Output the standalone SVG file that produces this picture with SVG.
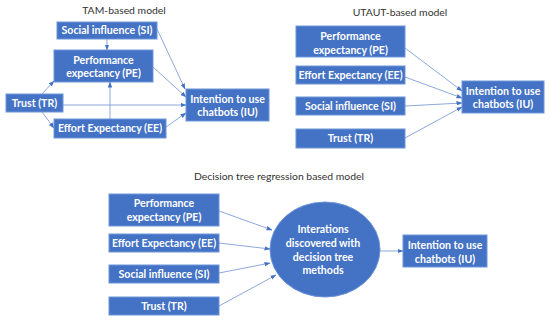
<svg xmlns="http://www.w3.org/2000/svg" width="550" height="321" viewBox="0 0 550 321">
<defs>
<marker id="ah" markerUnits="userSpaceOnUse" markerWidth="6" markerHeight="6" viewBox="0 0 6 6" refX="5.5" refY="3" orient="auto">
<path d="M0,0.8 L6,3 L0,5.2 z" fill="#4472C4"/>
</marker>
<style>
.box{fill:#4472C4;stroke:#6F95D8;stroke-width:1}
.t{fill:#ffffff;font-family:Lato,"Liberation Sans",sans-serif;font-weight:bold;font-size:10.6px;text-anchor:middle}
.title{fill:#333333;font-family:Lato,"Liberation Sans",sans-serif;font-size:10.4px;text-anchor:middle}
.c{stroke:#5B82CC;stroke-width:0.7;fill:none;marker-end:url(#ah)}
</style>
</defs>
<rect width="550" height="321" fill="#ffffff"/>
<text class="title" x="124" y="13.5">TAM-based model</text>
<text class="title" x="400" y="15.5">UTAUT-based model</text>
<text class="title" x="279" y="179.5">Decision tree regression based model</text>

<g id="connectors">
<line class="c" x1="107" y1="39" x2="107" y2="50"/>
<line class="c" x1="157" y1="29" x2="185" y2="89"/>
<line class="c" x1="153" y1="67" x2="186" y2="97"/>
<line class="c" x1="42" y1="94" x2="54" y2="81"/>
<line class="c" x1="63" y1="105" x2="186" y2="105"/>
<line class="c" x1="42" y1="112" x2="54" y2="128"/>
<line class="c" x1="110" y1="119" x2="110" y2="82"/>
<line class="c" x1="166" y1="127" x2="186" y2="113"/>

<line class="c" x1="405" y1="48" x2="462" y2="91"/>
<line class="c" x1="405" y1="77" x2="462" y2="98"/>
<line class="c" x1="405" y1="106" x2="462" y2="103"/>
<line class="c" x1="405" y1="138" x2="462" y2="107"/>

<line class="c" x1="219" y1="211" x2="272" y2="230"/>
<line class="c" x1="219" y1="243" x2="270" y2="249"/>
<line class="c" x1="219" y1="273" x2="270" y2="263"/>
<line class="c" x1="219" y1="306" x2="276" y2="275"/>
<line class="c" x1="380" y1="251" x2="403" y2="251"/>
</g>

<g id="tam-si"><rect class="box" x="57" y="22" width="100" height="17"/><text class="t" x="107" y="34.2">Social influence (SI)</text></g>
<g id="tam-pe"><rect class="box" x="54" y="50" width="99" height="32"/><text class="t" x="103.5" y="63.8">Performance</text><text class="t" x="103.5" y="77.3">expectancy (PE)</text></g>
<g id="tam-tr"><rect class="box" x="6" y="94" width="57" height="18"/><text class="t" x="34.5" y="106.8">Trust (TR)</text></g>
<g id="tam-ee"><rect class="box" x="54" y="119" width="112" height="19"/><text class="t" x="110" y="132.3">Effort Expectancy (EE)</text></g>
<g id="tam-iu"><rect class="box" x="186" y="89" width="83" height="32"/><text class="t" x="227.5" y="102.8">Intention to use</text><text class="t" x="227.5" y="116.3">chatbots (IU)</text></g>

<g id="ut-pe"><rect class="box" x="296" y="26" width="109" height="31"/><text class="t" x="350.5" y="39.8">Performance</text><text class="t" x="350.5" y="54.3">expectancy (PE)</text></g>
<g id="ut-ee"><rect class="box" x="296" y="66" width="109" height="18"/><text class="t" x="350.5" y="78.8">Effort Expectancy (EE)</text></g>
<g id="ut-si"><rect class="box" x="296" y="97" width="109" height="18"/><text class="t" x="350.5" y="109.8">Social influence (SI)</text></g>
<g id="ut-tr"><rect class="box" x="296" y="129" width="109" height="19"/><text class="t" x="350.5" y="142.3">Trust (TR)</text></g>
<g id="ut-iu"><rect class="box" x="462" y="81" width="82" height="32"/><text class="t" x="503" y="94.8">Intention to use</text><text class="t" x="503" y="108.3">chatbots (IU)</text></g>

<g id="dt-pe"><rect class="box" x="109" y="194" width="110" height="32"/><text class="t" x="164" y="206.8">Performance</text><text class="t" x="164" y="220.8">expectancy (PE)</text></g>
<g id="dt-ee"><rect class="box" x="109" y="234" width="110" height="18"/><text class="t" x="164" y="246.8">Effort Expectancy (EE)</text></g>
<g id="dt-si"><rect class="box" x="109" y="265" width="110" height="18"/><text class="t" x="164" y="277.8">Social influence (SI)</text></g>
<g id="dt-tr"><rect class="box" x="109" y="297" width="110" height="18"/><text class="t" x="164" y="309.8">Trust (TR)</text></g>
<g id="dt-int"><ellipse class="box" cx="325" cy="249.5" rx="55" ry="47.5"/><text class="t" x="323" y="232.8">Interations</text><text class="t" x="323" y="246.8">discovered with</text><text class="t" x="323" y="260.8">decision tree</text><text class="t" x="323" y="274.3">methods</text></g>
<g id="dt-iu"><rect class="box" x="403" y="235" width="84" height="32"/><text class="t" x="445" y="248.8">Intention to use</text><text class="t" x="445" y="262.8">chatbots (IU)</text></g>
</svg>
